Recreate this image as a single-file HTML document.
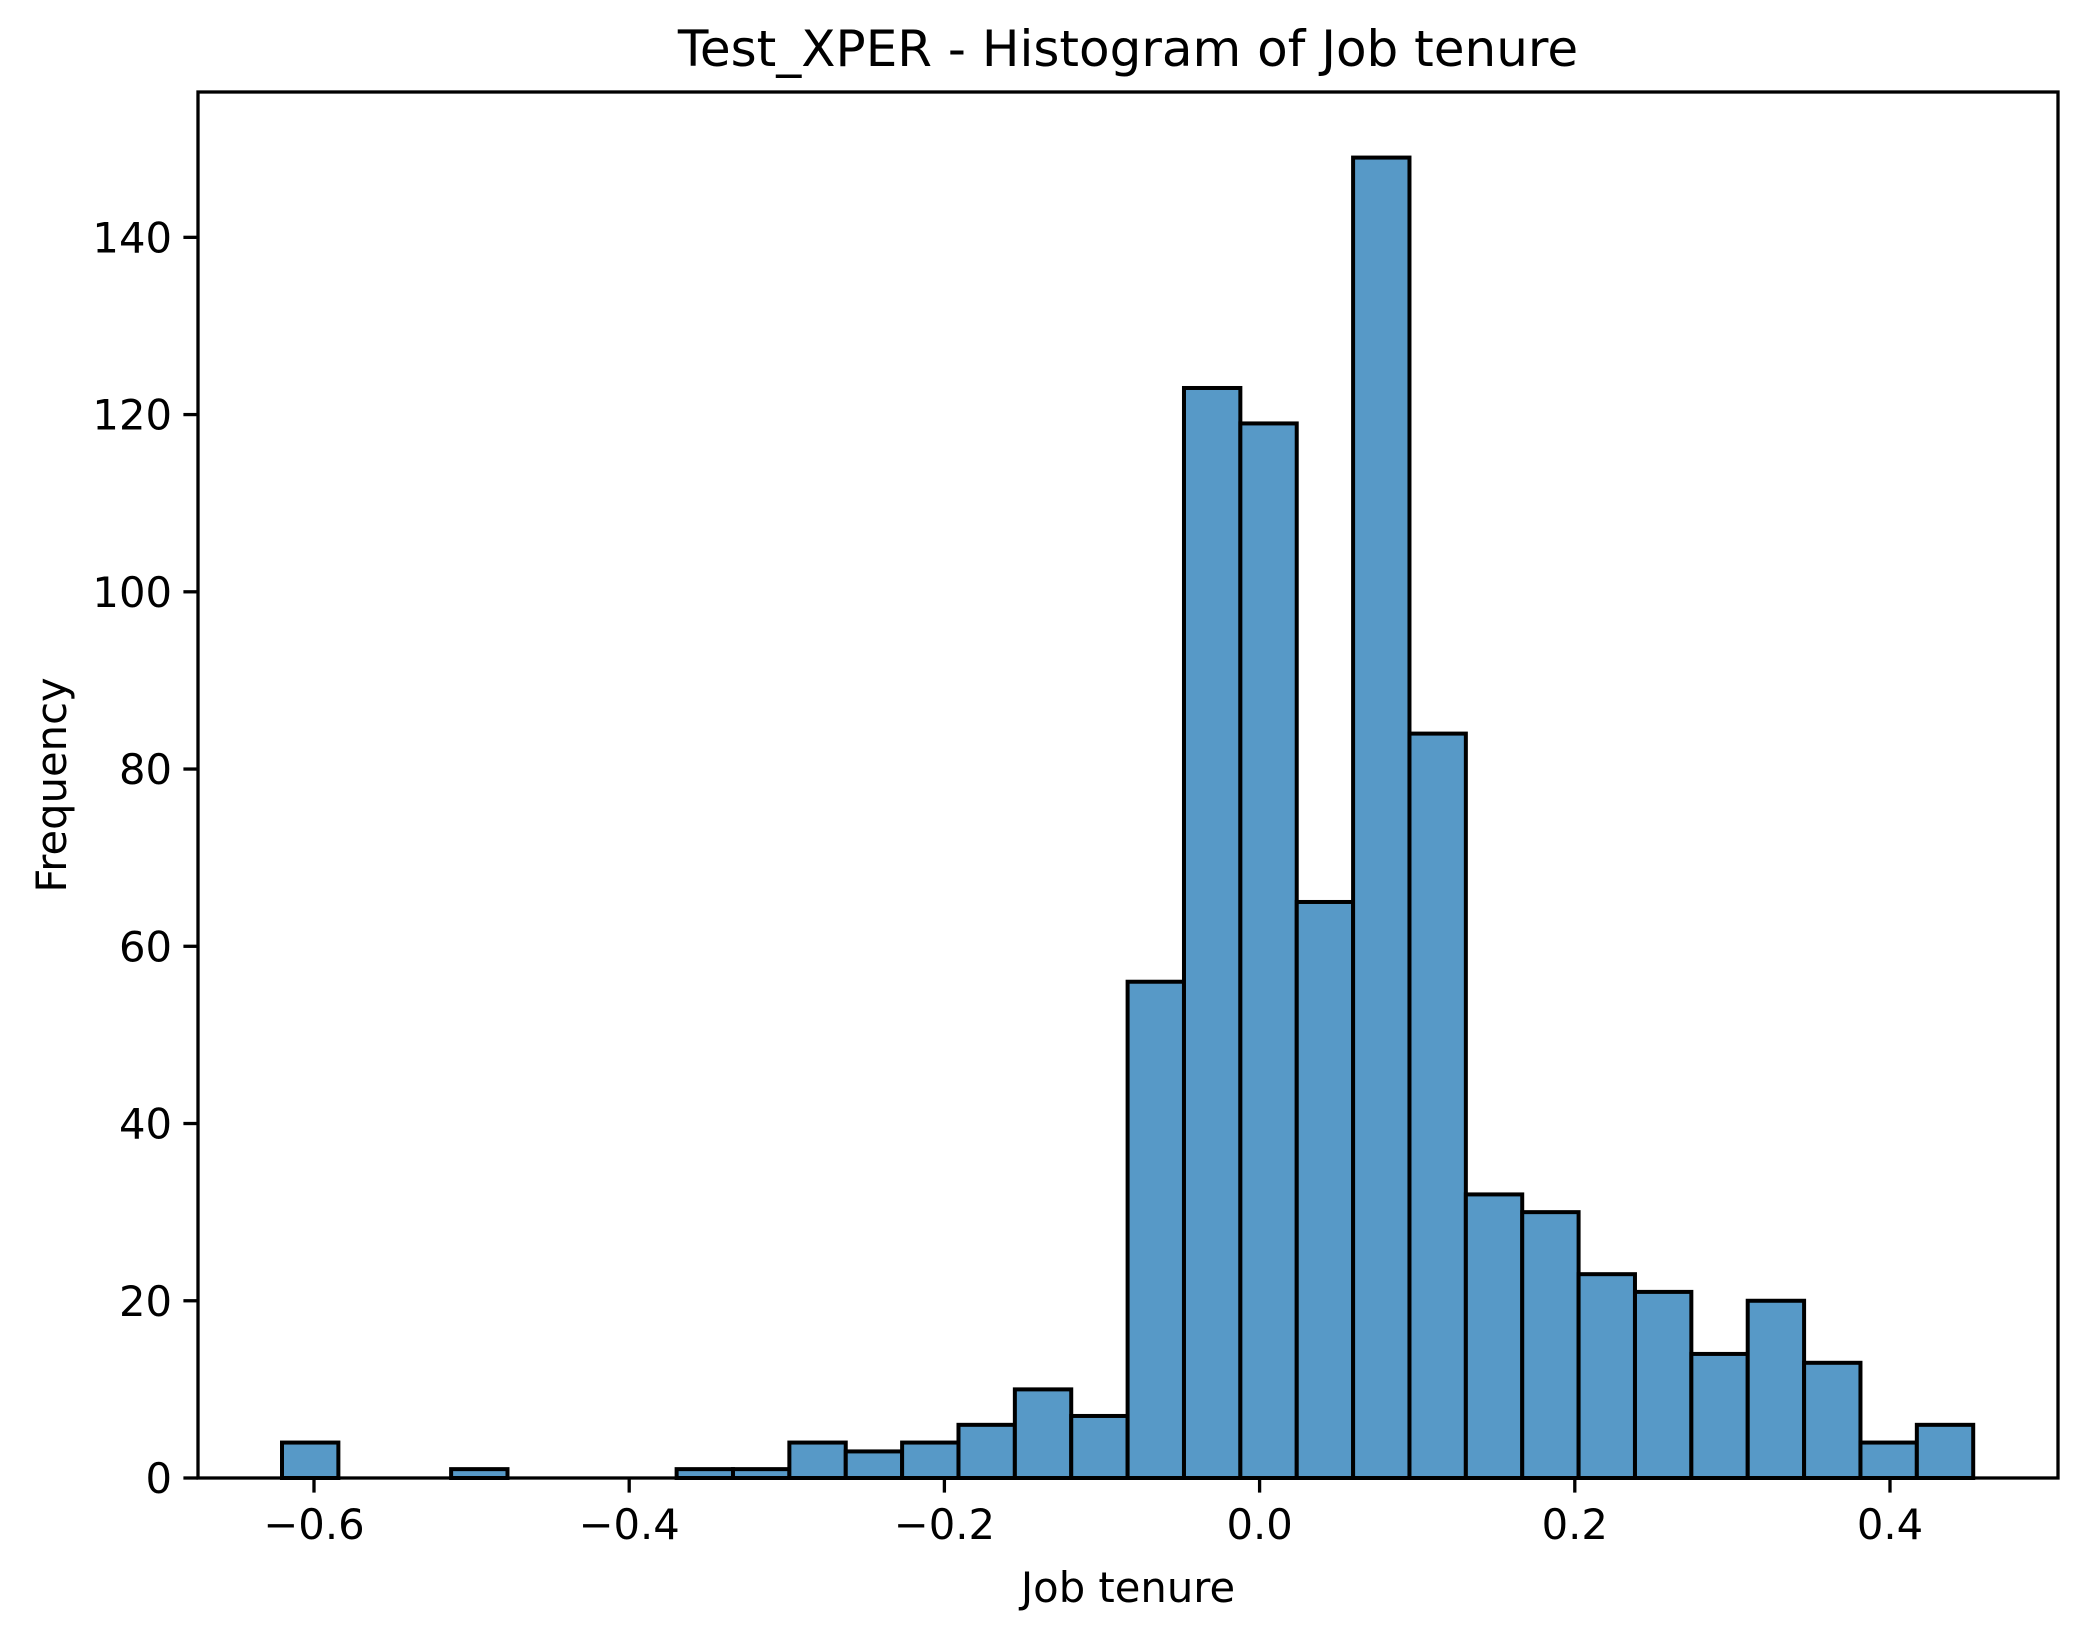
<!DOCTYPE html>
<html><head><meta charset="utf-8"><style>
html,body{margin:0;padding:0;background:#fff}
svg{display:block;font-family:"DejaVu Sans","Liberation Sans",sans-serif}
</style></head><body>
<svg id="chart" width="2087" height="1638" viewBox="0 0 2087 1638" xmlns="http://www.w3.org/2000/svg">
<rect x="0" y="0" width="2087" height="1638" fill="#fff"/>
<g id="bars"></g>
<g id="axes"></g>
<text x="1128" y="66" font-size="50" text-anchor="middle">Test_XPER - Histogram of Job tenure</text>
<text x="1128" y="1602" font-size="41.7" text-anchor="middle">Job tenure</text>
<text x="0" y="0" font-size="41.7" text-anchor="middle" transform="translate(66,785) rotate(-90)">Frequency</text>
</svg>
<script>
const counts = [4,0,0,1,0,0,0,1,1,4,3,4,6,10,7,56,123,119,65,149,84,32,30,23,21,14,20,13,4,6];
const binStart = -0.6203;
const binWidth = 0.03577;
const xTicks = [-0.6,-0.4,-0.2,0.0,0.2,0.4];
const xTickLabels = ["\u22120.6","\u22120.4","\u22120.2","0.0","0.2","0.4"];
const yTicks = [0,20,40,60,80,100,120,140];
const yTickLabels = ["0","20","40","60","80","100","120","140"];

const L=198,R=2058,T=92,B=1478;
const xMin=-0.6736,xMax=0.5066,yMin=0,yMax=156.4;
const xs=v=>L+(v-xMin)/(xMax-xMin)*(R-L);
const ys=v=>B-(v-yMin)/(yMax-yMin)*(B-T);
const NS="http://www.w3.org/2000/svg";
const bars=document.getElementById('bars');
const axes=document.getElementById('axes');
counts.forEach((c,i)=>{
  const x0=xs(binStart+i*binWidth),x1=xs(binStart+(i+1)*binWidth);
  const r=document.createElementNS(NS,'rect');
  
  
  r.setAttribute('x',x0);r.setAttribute('width',x1-x0);
  r.setAttribute('y',ys(c));r.setAttribute('height',ys(0)-ys(c));
  r.setAttribute('fill','#5799c7');r.setAttribute('stroke','#000');r.setAttribute('stroke-width','4');
  bars.appendChild(r);
});
const frame=document.createElementNS(NS,'rect');


frame.setAttribute('x',L);frame.setAttribute('y',T);frame.setAttribute('width',R-L);frame.setAttribute('height',B-T);
frame.setAttribute('fill','none');frame.setAttribute('stroke','#000');frame.setAttribute('stroke-width','3.3');
axes.appendChild(frame);
xTicks.forEach((v,i)=>{
  const x=xs(v);
  const l=document.createElementNS(NS,'line');
  
  
  l.setAttribute('x1',x);l.setAttribute('x2',x);l.setAttribute('y1',B);l.setAttribute('y2',B+14.6);
  l.setAttribute('stroke','#000');l.setAttribute('stroke-width','3.3');
  axes.appendChild(l);
  const t=document.createElementNS(NS,'text');
  
  
  t.setAttribute('x',x);t.setAttribute('y',B+61);t.setAttribute('font-size','41.7');t.setAttribute('text-anchor','middle');
  t.textContent=xTickLabels[i];
  axes.appendChild(t);
});
yTicks.forEach((v,i)=>{
  const y=ys(v);
  const l=document.createElementNS(NS,'line');
  
  
  l.setAttribute('x1',L-14.6);l.setAttribute('x2',L);l.setAttribute('y1',y);l.setAttribute('y2',y);
  l.setAttribute('stroke','#000');l.setAttribute('stroke-width','3.3');
  axes.appendChild(l);
  const t=document.createElementNS(NS,'text');
  
  
  t.setAttribute('x',L-26);t.setAttribute('y',y+15);t.setAttribute('font-size','41.7');t.setAttribute('text-anchor','end');
  t.textContent=yTickLabels[i];
  axes.appendChild(t);
});
</script>
</body></html>
